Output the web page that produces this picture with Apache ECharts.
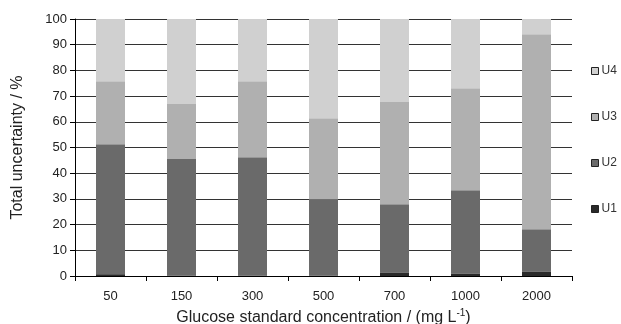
<!DOCTYPE html>
<html><head><meta charset="utf-8">
<script src="https://cdn.jsdelivr.net/npm/echarts@6/dist/echarts.min.js"></script>
<style>html,body{margin:0;padding:0;background:#fff}#c{width:621px;height:324px}</style>
</head><body><div id="c"></div>
<script>
const categories = ['50','150','300','500','700','1000','2000'];
const U1 = [0.7, 0.2, 0.2, 0.2, 1.4, 1.0, 1.8];
const U2 = [50.6, 45.3, 46.0, 29.7, 26.5, 32.4, 16.4];
const U3 = [24.5, 21.4, 29.6, 31.5, 39.8, 39.7, 75.9];
const U4 = [24.2, 33.1, 24.2, 38.6, 32.3, 26.9, 5.9];
const yTicks = [0,10,20,30,40,50,60,70,80,90,100];

const font = 'Liberation Sans, Arial, sans-serif';
const colors = {U1:'#2a2a2a', U2:'#6a6a6a', U3:'#b0b0b0', U4:'#d0d0d0'};
function s(name, data){
  return {name, type:'bar', stack:'t', data, barWidth:29,
    itemStyle:{color:colors[name]}, emphasis:{disabled:true}};
}
const chart = echarts.init(document.getElementById('c'), null, {renderer:'canvas'});
chart.setOption({
  animation:false,
  grid:{left:75, right:49, top:19, bottom:48, containLabel:false, outerBoundsMode:'none'},
  legend:{
    orient:'vertical', left:591, top:65, padding:0, itemGap:34,
    itemWidth:7, itemHeight:7, icon:'rect',
    data:['U4','U3','U2','U1'],
    itemStyle:{borderColor:'#222', borderWidth:1},
    textStyle:{fontFamily:font, fontSize:12, color:'#333', padding:[0,0,0,-2]},
    selectedMode:false
  },
  xAxis:{
    type:'category', data:categories,
    axisLine:{lineStyle:{color:'#000', width:1}},
    axisTick:{show:true, inside:false, length:5, lineStyle:{color:'#000'}},
    axisLabel:{fontFamily:font, fontSize:13, color:'#222', margin:14},
    name:'Glucose standard concentration / (mg L{sup|-1})',
    nameLocation:'middle', nameGap:30,
    nameTextStyle:{fontFamily:font, fontSize:16, color:'#222',
      rich:{sup:{fontFamily:font, fontSize:10, color:'#222', verticalAlign:'top', padding:[0,0,9,0]}}}
  },
  yAxis:{
    type:'value', min:0, max:100, interval:10,
    axisLine:{show:true, lineStyle:{color:'#000', width:1}},
    axisTick:{show:true, length:5, lineStyle:{color:'#000'}},
    axisLabel:{fontFamily:font, fontSize:13, color:'#222', margin:8,
      formatter:v=> yTicks.includes(v) ? String(v) : ''},
    splitLine:{show:true, lineStyle:{color:'#333', width:1}},
    name:'Total uncertainty / %', nameLocation:'middle', nameGap:49,
    nameTextStyle:{fontFamily:font, fontSize:16, color:'#222'}
  },
  series:[s('U1',U1), s('U2',U2), s('U3',U3), s('U4',U4)]
});
</script></body></html>
